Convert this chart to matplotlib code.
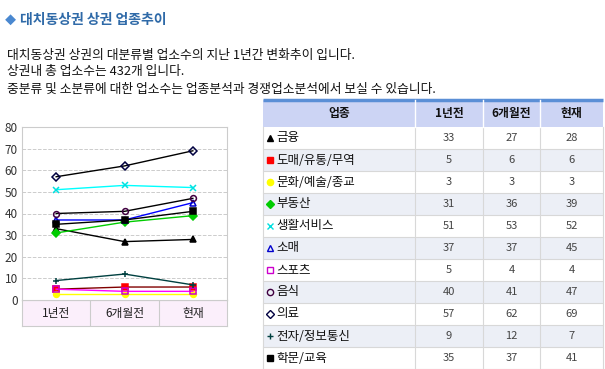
import matplotlib
matplotlib.use("Agg")
import matplotlib.pyplot as plt
from matplotlib.patches import Rectangle

plt.rcParams['font.family'] = ['Noto Sans CJK KR', 'DejaVu Sans']

# === DATA ===
periods = ["1년전", "6개월전", "현재"]
categories = ["금융", "도매/유통/무역", "문화/예술/종교", "부동산", "생활서비스", "소매",
              "스포츠", "음식", "의료", "전자/정보통신", "학문/교육"]
finance = [33, 27, 28]
wholesale = [5, 6, 6]
culture = [3, 3, 3]
realestate = [31, 36, 39]
living = [51, 53, 52]
retail = [37, 37, 45]
sports = [5, 4, 4]
food = [40, 41, 47]
medical = [57, 62, 69]
electronics = [9, 12, 7]
education = [35, 37, 41]
series = [finance, wholesale, culture, realestate, living, retail,
          sports, food, medical, electronics, education]
yticks = [0, 10, 20, 30, 40, 50, 60, 70, 80]

# style per series: (line color, marker, marker face, marker edge)
styles = [
    ("#000000", "^", "#000000", "#000000"),
    ("#800000", "s", "#ff0000", "#ff0000"),
    ("#ffff00", "o", "#ffff00", "#ffff00"),
    ("#00cc00", "D", "#00cc00", "#00cc00"),
    ("#00ffff", "x", "none", "#00e0e0"),
    ("#0000ff", "^", "none", "#0000cc"),
    ("#ff00ff", "s", "none", "#cc00cc"),
    ("#000000", "o", "none", "#400040"),
    ("#000000", "D", "none", "#000040"),
    ("#004040", "+", "none", "#004040"),
    ("#000000", "s", "#000000", "#000000"),
]

W, H = 605, 369
fig = plt.figure(figsize=(W / 100, H / 100), dpi=100)

# overlay in pixel coords for texts and the table
ov = fig.add_axes([0, 0, 1, 1])
ov.set_xlim(0, W)
ov.set_ylim(H, 0)
ov.axis("off")

ov.text(5, 20, "◆", color="#4a88d0", fontsize=8, va="center", ha="left")
ov.text(20, 20, "대치동상권 상권 업종추이", color="#2f6aa8", fontsize=10,
        fontweight="bold", va="center", ha="left")
intro = ["대치동상권 상권의 대분류별 업소수의 지난 1년간 변화추이 입니다.",
         "상권내 총 업소수는 432개 입니다.",
         "중분류 및 소분류에 대한 업소수는 업종분석과 경쟁업소분석에서 보실 수 있습니다."]
for i, line in enumerate(intro):
    ov.text(7, 55 + i * 17, line, fontsize=9.2, va="center", ha="left", color="#111111")

# === table ===
col_x = [263, 415, 483, 540, 603]
top, head_h, row_h = 100, 27, 22
ov.plot([263, 603], [top, top], color="#5b8fd6", lw=2.5, solid_capstyle="butt")
ov.add_patch(Rectangle((263, top), 340, head_h, facecolor="#ccd4f4", edgecolor="none"))
headers = ["업종"] + periods
for j, h in enumerate(headers):
    ov.text((col_x[j] + col_x[j + 1]) / 2, top + head_h / 2, h, fontsize=8.5,
            fontweight="bold", ha="center", va="center", color="#111111")
for i, (cat, vals, st) in enumerate(zip(categories, series, styles)):
    y0 = top + head_h + i * row_h
    fc = "#eceff6" if i % 2 == 1 else "white"
    ov.add_patch(Rectangle((263, y0), 340, row_h, facecolor=fc, edgecolor="none"))
    ov.plot([263, 603], [y0 + row_h, y0 + row_h], color="#d8d8d8", lw=0.8)
    ov.plot([270], [y0 + row_h / 2], marker=st[1], markersize=4.5,
            markerfacecolor=st[2], markeredgecolor=st[3], linestyle="none")
    ov.text(276, y0 + row_h / 2, cat, fontsize=9, ha="left", va="center", color="#111111")
    for j, v in enumerate(vals):
        ov.text((col_x[j + 1] + col_x[j + 2]) / 2, y0 + row_h / 2, str(v), fontsize=8,
                ha="center", va="center", color="#444444")
table_bottom = top + head_h + len(categories) * row_h
for x in col_x:
    ov.plot([x, x], [top + head_h, table_bottom], color="#d8d8d8", lw=0.8)
for x in col_x[1:-1]:
    ov.plot([x, x], [top, top + head_h], color="white", lw=1)

# === line chart ===
ax = fig.add_axes([22 / W, (H - 300) / H, 205 / W, 173 / H])
ax.set_zorder(2)
for vals, st in zip(series, styles):
    ax.plot(range(len(periods)), vals, color=st[0], lw=1, marker=st[1], markersize=4.2,
            markerfacecolor=st[2], markeredgecolor=st[3], markeredgewidth=1.1)
ax.set_xlim(-0.5, 2.5)
ax.set_ylim(0, 80)
ax.set_yticks(yticks)
ax.set_xticks([])
ax.tick_params(axis="y", length=0, labelsize=8.5, labelcolor="#333333", pad=3)
ax.grid(axis="y", color="#cccccc", linestyle="--", lw=0.7)
for s in ax.spines.values():
    s.set_color("#cccccc")
    s.set_linewidth(0.8)

# category boxes under the chart
cx = fig.add_axes([22 / W, (H - 326) / H, 205 / W, 26 / H])
cx.set_xlim(-0.5, 2.5)
cx.set_ylim(0, 1)
cx.set_facecolor("#fbeffb")
cx.set_xticks([])
cx.set_yticks([])
for s in cx.spines.values():
    s.set_color("#cccccc")
    s.set_linewidth(0.8)
for k, p in enumerate(periods):
    cx.text(k, 0.5, p, fontsize=8.5, ha="center", va="center", color="#222222")
    if k > 0:
        cx.axvline(k - 0.5, color="#cccccc", lw=0.8)

fig.savefig("out.png", dpi=100)
